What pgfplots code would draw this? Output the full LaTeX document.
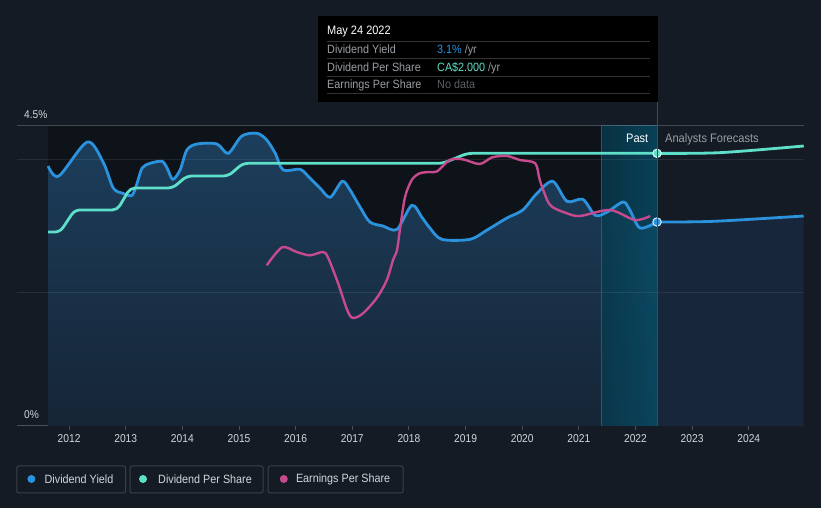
\documentclass[border=0pt]{standalone}
\usepackage{pgfplots}
\pgfplotsset{compat=1.18}
\usepackage{pgfplotstable}
\usepackage{fontspec}
\setmainfont{Liberation Sans}
\newfontfamily\cond{Liberation Sans}[FakeStretch=0.9]
\definecolor{bg}{HTML}{151B25}
\definecolor{darkplot}{HTML}{0E1219}
\definecolor{dyblue}{HTML}{2B93DD}
\definecolor{dpsteal}{HTML}{5EDFC9}
\definecolor{epspink}{HTML}{C64A8D}
\definecolor{areatop}{HTML}{1C3E5C}
\definecolor{areabot}{HTML}{162536}
\definecolor{fcarea}{HTML}{17263A}
\definecolor{bandl}{HTML}{0B5570}
\definecolor{bandr}{HTML}{0B7096}
\definecolor{divline}{HTML}{21566B}
\definecolor{axisgray}{HTML}{4A505A}
\definecolor{ticktext}{HTML}{D2D6DC}
\definecolor{legborder}{HTML}{3A404B}
\definecolor{tipgray}{HTML}{9A9EA4}
\definecolor{tipdark}{HTML}{5C6066}

\pgfplotstableread{
x y
2011.63 3.90
2011.82 3.75
2012.32 4.26
2012.60 3.96
2012.78 3.57
2012.95 3.49
2013.11 3.46
2013.20 3.64
2013.29 3.87
2013.43 3.94
2013.64 3.97
2013.73 3.87
2013.83 3.70
2013.96 3.84
2014.08 4.14
2014.26 4.23
2014.61 4.23
2014.81 4.09
2015.05 4.35
2015.32 4.39
2015.49 4.29
2015.64 4.09
2015.78 3.84
2016.08 3.85
2016.25 3.72
2016.43 3.57
2016.61 3.43
2016.82 3.67
2016.96 3.54
2017.14 3.28
2017.31 3.06
2017.54 3.00
2017.79 2.95
2018.05 3.31
2018.23 3.13
2018.37 2.97
2018.58 2.80
2019.08 2.80
2019.38 2.94
2019.73 3.12
2020.01 3.24
2020.26 3.49
2020.54 3.67
2020.79 3.37
2021.07 3.40
2021.29 3.16
2021.50 3.21
2021.78 3.36
2021.90 3.24
2022.08 2.97
2022.38 3.06
}\yieldpast

\pgfplotstableread{
x y
2022.38 3.06
2023.37 3.07
2024.97 3.15
}\yieldfc

\pgfplotstableread{
x y
2011.63 2.91
2011.84 2.91
2012.10 3.24
2012.85 3.24
2013.08 3.57
2013.83 3.57
2014.08 3.75
2014.81 3.75
2015.07 3.94
2018.60 3.94
2019.03 4.09
2022.38 4.09
}\dpspast

\pgfplotstableread{
x y
2022.38 4.09
2023.49 4.10
2024.97 4.20
}\dpsfc

\pgfplotstableread{
x y
2015.49 2.41
2015.76 2.68
2016.02 2.61
2016.25 2.56
2016.48 2.61
2016.57 2.53
2016.75 2.14
2016.91 1.74
2017.01 1.62
2017.19 1.69
2017.44 1.93
2017.61 2.19
2017.72 2.49
2017.79 2.64
2017.84 2.94
2017.93 3.43
2018.05 3.69
2018.19 3.79
2018.37 3.81
2018.50 3.82
2018.72 3.99
2018.95 4.00
2019.25 3.93
2019.47 4.03
2019.73 4.05
2019.96 3.99
2020.23 3.94
2020.31 3.69
2020.44 3.39
2020.54 3.28
2020.79 3.19
2021.02 3.15
2021.55 3.24
2021.99 3.09
2022.26 3.15
}\eps

\begin{document}
\begin{tikzpicture}
\fill[bg] (0pt,0pt) rectangle (821pt,508pt);
\useasboundingbox (0pt,0pt) rectangle (821pt,508pt);
\begin{axis}[
  at={(16.8pt,82pt)}, anchor=south west,
  scale only axis, width=787.2pt, height=300pt,
  xmin=2011.077, xmax=2024.975, ymin=0, ymax=4.5,
  clip=false,
  axis y line=none, axis x line=bottom,
  x axis line style={-, draw=axisgray, line width=1pt},
  xtick={2012,2013,2014,2015,2016,2017,2018,2019,2020,2021,2022,2023,2024},
  xticklabels={2012,2013,2014,2015,2016,2017,2018,2019,2020,2021,2022,2023,2024},
  tick align=outside, major tick length=4pt,
  xtick style={draw=axisgray, line width=1pt},
  ytick=\empty,
  xticklabel style={font=\cond\fontsize{11.4}{13}\selectfont, text=ticktext, inner sep=0pt, yshift=-4.6pt},
]
\fill[darkplot] (2011.63,0) rectangle (2022.38,4.5);
\addplot[draw=none, top color=areatop, bottom color=areabot, smooth, tension=0.5] table[x=x,y=y]{\yieldpast} \closedcycle;
\addplot[draw=none, fill=fcarea, smooth, tension=0.5] table[x=x,y=y]{\yieldfc} \closedcycle;
\fill[left color=bandl, right color=bandr, opacity=0.55] (2021.39,0) rectangle (2022.38,4.5);
\draw[color=bandr!60!white, opacity=0.3, line width=0.7pt] (2021.39,0) -- (2021.39,4.5);
\draw[white, opacity=0.20, line width=1pt] (2011.077,4.5) -- (2024.975,4.5);
\draw[white, opacity=0.08, line width=1pt] (2011.077,4.0) -- (2024.975,4.0);
\draw[white, opacity=0.08, line width=1pt] (2011.077,2.0) -- (2024.975,2.0);
\addplot[dyblue, line width=2.8pt, smooth, tension=0.5] table[x=x,y=y]{\yieldpast};
\addplot[dyblue, line width=2.8pt, smooth, tension=0.5] table[x=x,y=y]{\yieldfc};
\addplot[dpsteal, line width=2.8pt, sharp plot, rounded corners=5pt] table[x=x,y=y]{\dpspast};
\addplot[dpsteal, line width=2.8pt, smooth, tension=0.5] table[x=x,y=y]{\dpsfc};
\addplot[epspink, line width=2.4pt, smooth, tension=0.5] table[x=x,y=y]{\eps};
\addplot[only marks, mark=*, mark size=4.2pt, mark options={fill=dpsteal, draw=white!85!dpsteal, line width=1pt}] coordinates {(2022.38,4.09)};
\addplot[only marks, mark=*, mark size=4.2pt, mark options={fill=dyblue, draw=white!85!dyblue, line width=1pt}] coordinates {(2022.38,3.06)};
\end{axis}
\begin{scope}[x=1pt,y=1pt]
\draw[color=divline, line width=1pt] (657,82) -- (657,406);
\node[anchor=west, inner sep=0pt, text=ticktext, font=\cond\fontsize{11.3}{13}\selectfont] at (24,393) {4.5\%};
\node[anchor=west, inner sep=0pt, text=ticktext, font=\cond\fontsize{11.3}{13}\selectfont] at (24,93.5) {0\%};
\node[anchor=base east, inner sep=0pt, text=white, font=\cond\fontsize{12.3}{14}\selectfont] at (648.5,365.6) {Past};
\node[anchor=base west, inner sep=0pt, text=tipgray, font=\cond\fontsize{12.3}{14}\selectfont] at (665,365.6) {Analysts Forecasts};
\fill[black] (318,492) rectangle (658,406);
\node[anchor=base west, inner sep=0pt, text=white, font=\cond\fontsize{12.2}{14}\selectfont] at (327,473) {May 24 2022};
\foreach \yy in {467,450,432,415} {\draw[white!20!black, line width=0.8pt] (327,\yy) -- (650,\yy);}
\node[anchor=base west, inner sep=0pt, text=tipgray, font=\cond\fontsize{12}{14}\selectfont] at (327,454.7) {Dividend Yield};
\node[anchor=base west, inner sep=0pt, text=tipgray, font=\cond\fontsize{12}{14}\selectfont] at (327,436.7) {Dividend Per Share};
\node[anchor=base west, inner sep=0pt, text=tipgray, font=\cond\fontsize{12}{14}\selectfont] at (327,419.7) {Earnings Per Share};
\node[anchor=base west, inner sep=0pt, font=\cond\fontsize{12}{14}\selectfont] at (437,454.7) {\textcolor{dyblue}{3.1\%} \textcolor{tipgray}{/yr}};
\node[anchor=base west, inner sep=0pt, font=\cond\fontsize{12}{14}\selectfont] at (437,436.7) {\textcolor{dpsteal}{CA\$2.000} \textcolor{tipgray}{/yr}};
\node[anchor=base west, inner sep=0pt, text=tipdark, font=\cond\fontsize{12}{14}\selectfont] at (437,419.7) {No data};
\draw[legborder, line width=1pt, rounded corners=2pt] (16.8,15) rectangle (125.7,42);
\draw[legborder, line width=1pt, rounded corners=2pt] (130,15) rectangle (263,42);
\draw[legborder, line width=1pt, rounded corners=2pt] (268,15) rectangle (403,42);
\fill[dyblue] (31.4,29) circle (4);
\fill[dpsteal] (143,29) circle (4);
\fill[epspink] (283.8,29) circle (4);
\node[anchor=west, inner sep=0pt, text=ticktext, font=\cond\fontsize{12}{14}\selectfont] at (44.5,29) {Dividend Yield};
\node[anchor=west, inner sep=0pt, text=ticktext, font=\cond\fontsize{12}{14}\selectfont] at (158,29) {Dividend Per Share};
\node[anchor=west, inner sep=0pt, text=ticktext, font=\cond\fontsize{12}{14}\selectfont] at (295.8,29) {Earnings Per Share};
\end{scope}
\end{tikzpicture}
\end{document}
